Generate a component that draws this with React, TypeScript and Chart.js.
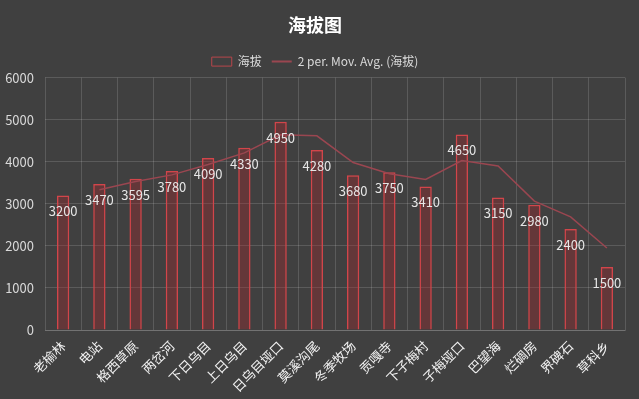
import React, { useEffect, useRef } from "react";
import { Chart, registerables } from "chart.js";

Chart.register(...registerables);

const categories = ["老榆林", "电站", "格西草原", "两岔河", "下日乌目", "上日乌目", "日乌目垭口", "莫溪沟尾", "冬季牧场", "贡嘎寺", "下子梅村", "子梅垭口", "巴望海", "烂碉房", "界碑石", "草科乡"];
const altitude = [3200, 3470, 3595, 3780, 4090, 4330, 4950, 4280, 3680, 3750, 3410, 4650, 3150, 2980, 2400, 1500];
const movingAvg = [null, 3335, 3532.5, 3687.5, 3935, 4210, 4640, 4615, 3980, 3715, 3580, 4030, 3900, 3065, 2690, 1950];
const yTicks = [0, 1000, 2000, 3000, 4000, 5000, 6000];

const FONT = "'Noto Sans CJK SC', 'Noto Sans', sans-serif";

const bgPlugin = {
  id: "bg",
  beforeDraw(chart: any) {
    const { ctx, width, height } = chart;
    ctx.save();
    ctx.fillStyle = "#404040";
    ctx.fillRect(0, 0, width, height);
    ctx.restore();
  },
};

const labelPlugin = {
  id: "barLabels",
  afterDatasetsDraw(chart: any) {
    const { ctx } = chart;
    const meta = chart.getDatasetMeta(0);
    ctx.save();
    ctx.fillStyle = "#e6e6e6";
    ctx.font = `13px ${FONT}`;
    ctx.textAlign = "center";
    ctx.textBaseline = "middle";
    meta.data.forEach((bar: any, i: number) => {
      ctx.fillText(String(altitude[i]), bar.x, bar.y + 16);
    });
    ctx.restore();
  },
};

export default function App() {
  const ref = useRef<HTMLCanvasElement>(null);
  useEffect(() => {
    document.body.style.margin = "0";
    const chart = new Chart(ref.current!, {
      type: "bar",
      data: {
        labels: categories,
        datasets: [
          {
            type: "bar",
            label: "海拔",
            data: altitude,
            backgroundColor: "rgba(170, 40, 45, 0.35)",
            borderColor: "#d2454a",
            borderWidth: 1.5,
            barPercentage: 0.34,
            categoryPercentage: 1,
            order: 2,
          },
          {
            type: "line",
            label: "2 per. Mov. Avg. (海拔)",
            data: movingAvg as any,
            borderColor: "#9a4650",
            backgroundColor: "#9a4650",
            borderWidth: 1.5,
            pointRadius: 0,
            tension: 0,
            order: 1,
          },
        ],
      },
      options: {
        animation: false,
        responsive: false,
        layout: { padding: { left: 5, right: 14, top: 4, bottom: 0 } },
        plugins: {
          title: {
            display: true,
            text: "海拔图",
            color: "#ffffff",
            font: { family: FONT, size: 18, weight: "bold" },
            padding: { top: 10, bottom: 10 },
          },
          legend: {
            display: true,
            labels: {
              color: "#d9d9d9",
              font: { family: FONT, size: 12 },
              usePointStyle: true,
              pointStyleWidth: 20,
              boxHeight: 9,
              padding: 10,
              sort: (a: any, b: any) => a.datasetIndex - b.datasetIndex,
              generateLabels(chart: any) {
                const items = Chart.defaults.plugins.legend.labels.generateLabels(chart);
                items.forEach((it: any) => {
                  if (it.datasetIndex === 0) {
                    it.pointStyle = "rect";
                    it.fillStyle = "rgba(0,0,0,0)";
                    it.strokeStyle = "#b8454a";
                    it.lineWidth = 1;
                  } else {
                    it.pointStyle = "line";
                    it.strokeStyle = "#9a4650";
                    it.lineWidth = 2;
                  }
                });
                return items;
              },
            },
          },
          tooltip: { enabled: false },
        },
        scales: {
          x: {
            grid: { color: "rgba(255,255,255,0.14)", offset: true, drawTicks: false },
            border: { color: "rgba(255,255,255,0.14)" },
            afterFit(scale: any) {
              scale.paddingLeft = 0;
              scale.paddingRight = 0;
              scale.height = 69;
            },
            ticks: {
              color: "#f2f2f2",
              font: { family: FONT, size: 13 },
              minRotation: 45,
              maxRotation: 45,
              autoSkip: false,
              padding: 8,
            },
          },
          y: {
            min: 0,
            max: 6000,
            afterBuildTicks(axis: any) {
              axis.ticks = yTicks.map((v) => ({ value: v }));
            },
            afterFit(scale: any) {
              scale.width = 40;
            },
            grid: { color: "rgba(255,255,255,0.14)", drawTicks: false },
            border: { display: false },
            ticks: {
              color: "#d9d9d9",
              font: { family: FONT, size: 13 },
              padding: 11,
              callback: (v: any) => String(v),
            },
          },
        },
      },
      plugins: [bgPlugin, labelPlugin],
    } as any);
    return () => chart.destroy();
  }, []);
  return (
    <div style={{ width: 639, height: 399, background: "#404040" }}>
      <canvas ref={ref} width={639} height={399} style={{ display: "block" }} />
    </div>
  );
}
